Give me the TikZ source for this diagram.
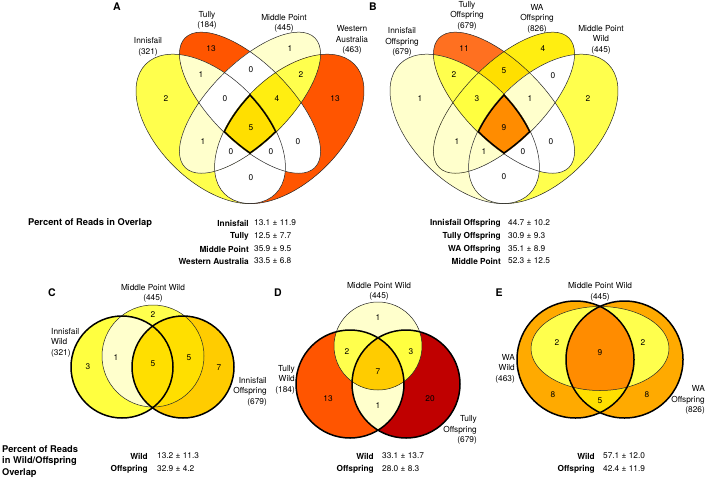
\documentclass[tikz,border=0pt]{standalone}
\usepackage{fontspec}
\setmainfont{TeX Gyre Heros}

\definecolor{h1}{HTML}{FFFFCC}
\definecolor{h2}{HTML}{FFFF4D}
\definecolor{h3}{HTML}{FFFF40}
\definecolor{h4}{HTML}{FFEE11}
\definecolor{h5}{HTML}{FFDF00}
\definecolor{h7}{HTML}{FFCC00}
\definecolor{h8}{HTML}{FFAA00}
\definecolor{h9}{HTML}{FF8C00}
\definecolor{h11}{HTML}{FF7020}
\definecolor{h13}{HTML}{FF5500}
\definecolor{h20}{HTML}{C00000}

\tikzset{
  oL/.style={shift={(#1-39.3,128.9)}, rotate=-45},
  iL/.style={shift={(#1,102.7)}, rotate=-45},
  iR/.style={shift={(#1,102.7)}, rotate=45},
  oR/.style={shift={(#1+39.3,128.9)}, rotate=45},
  thinline/.style={line width=0.5pt, black!85},
  thickline/.style={line width=1.5pt, black},
  setlabel/.style={font=\fontsize{8.3}{10.6}\selectfont, align=center, inner sep=0pt},
  regnum/.style={font=\fontsize{8.3}{10}\selectfont, inner sep=0pt},
  paneltag/.style={font=\bfseries\fontsize{10.5}{12}\selectfont, inner sep=0pt},
  pctitle/.style={font=\bfseries\fontsize{9.3}{11.5}\selectfont, align=left, anchor=west, inner sep=0pt},
  grpname/.style={font=\bfseries\fontsize{8.3}{10}\selectfont, anchor=east, inner sep=0pt},
  grpval/.style={font=\fontsize{8.3}{10}\selectfont, anchor=west, inner sep=0pt},
}

\newcommand{\outE}{(0,0) ellipse (91.7 and 52.4)}
\newcommand{\inE}{(0,0) ellipse (91.7 and 39.3)}

% four ellipses round centre x=#1, region colours r1 ... r1234
\newcommand{\quadvenn}[1]{%
  \fill[r1,oL=#1]\outE;
  \fill[r2,iL=#1]\inE;
  \fill[r3,iR=#1]\inE;
  \fill[r4,oR=#1]\outE;
  \begin{scope}
    \clip[oL=#1]\outE;
    \fill[r12,iL=#1]\inE;
    \fill[r13,iR=#1]\inE;
    \fill[r14,oR=#1]\outE;
  \end{scope}
  \begin{scope}
    \clip[iL=#1]\inE;
    \fill[r23,iR=#1]\inE;
    \fill[r24,oR=#1]\outE;
  \end{scope}
  \begin{scope}
    \clip[iR=#1]\inE;
    \fill[r34,oR=#1]\outE;
  \end{scope}
  \begin{scope}
    \clip[oL=#1]\outE; \clip[iL=#1]\inE;
    \fill[r123,iR=#1]\inE;
    \fill[r124,oR=#1]\outE;
  \end{scope}
  \begin{scope}
    \clip[oL=#1]\outE; \clip[iR=#1]\inE;
    \fill[r134,oR=#1]\outE;
  \end{scope}
  \begin{scope}
    \clip[iL=#1]\inE; \clip[iR=#1]\inE;
    \fill[r234,oR=#1]\outE;
  \end{scope}
  \draw[thinline,oL=#1]\outE;
  \draw[thinline,iL=#1]\inE;
  \draw[thinline,iR=#1]\inE;
  \draw[thinline,oR=#1]\outE;
  \begin{scope}
    \clip[oL=#1]\outE; \clip[iL=#1]\inE; \clip[iR=#1]\inE;
    \fill[r1234,oR=#1]\outE;
    \clip[oR=#1]\outE;
    \draw[line width=2.8pt,oL=#1]\outE;
    \draw[line width=2.8pt,iL=#1]\inE;
    \draw[line width=2.8pt,iR=#1]\inE;
    \draw[line width=2.8pt,oR=#1]\outE;
  \end{scope}
}

\begin{document}
\begin{tikzpicture}[x=1pt, y=-1pt]
\useasboundingbox (0,0) rectangle (708,480);

% panel A
\colorlet{r1}{h2}    \colorlet{r2}{h13}   \colorlet{r3}{h1}    \colorlet{r4}{h13}
\colorlet{r12}{h1}   \colorlet{r13}{h1}   \colorlet{r14}{white} \colorlet{r23}{white}
\colorlet{r24}{white} \colorlet{r34}{h2}  \colorlet{r123}{white} \colorlet{r124}{white}
\colorlet{r134}{white} \colorlet{r234}{h4} \colorlet{r1234}{h5}
\quadvenn{250}

\node[paneltag] (tagA) at (117,7) {A};
\node[setlabel] (labInn) at (148,47) {Innisfail\\(321)};
\node[setlabel] (labTully) at (207,20.5) {Tully\\(184)};
\node[setlabel] (labMP) at (284,23.5) {Middle Point\\(445)};
\node[setlabel] (labWA) at (352,40) {Western\\Australia\\(463)};

\node[regnum] (aI) at (166,99) {2};
\node[regnum] (aT) at (211,49) {13};
\node[regnum] (aM) at (290,49) {1};
\node[regnum] (aW) at (335,99) {13};
\node[regnum] (aIT) at (201,75) {1};
\node[regnum] (aTM) at (251,70) {0};
\node[regnum] (aMW) at (301,75) {2};
\node[regnum] (aITM) at (225,99) {0};
\node[regnum] (aTMW) at (277,99) {4};
\node[regnum] (aAll) at (251,128) {5};
\node[regnum] (aIM) at (203,142) {1};
\node[regnum] (aTW) at (298,142) {0};
\node[regnum] (aIMW) at (231,152) {0};
\node[regnum] (aITW) at (271,152) {0};
\node[regnum] (aIW) at (251,178) {0};

% panel B
\colorlet{r1}{h1}    \colorlet{r2}{h11}   \colorlet{r3}{h4}    \colorlet{r4}{h2}
\colorlet{r12}{h2}   \colorlet{r13}{h1}   \colorlet{r14}{white} \colorlet{r23}{h5}
\colorlet{r24}{white} \colorlet{r34}{white} \colorlet{r123}{h3} \colorlet{r124}{white}
\colorlet{r134}{h1}  \colorlet{r234}{h1}  \colorlet{r1234}{h9}
\quadvenn{504}

\node[paneltag] (tagB) at (373,7) {B};
\node[setlabel] (labInnOff) at (402,42) {Innisfail\\Offspring\\(679)};
\node[setlabel] (labTullyOff) at (467,15.5) {Tully\\Offspring\\(679)};
\node[setlabel] (labWAOff) at (537,18.5) {WA\\Offspring\\(826)};
\node[setlabel] (labMPWild) at (601,39.5) {Middle Point\\Wild\\(445)};

\node[regnum] (bI) at (420,99) {1};
\node[regnum] (bT) at (464,49) {11};
\node[regnum] (bW) at (543,49) {4};
\node[regnum] (bM) at (588,99) {2};
\node[regnum] (bIT) at (454,75) {2};
\node[regnum] (bTW) at (504,71) {5};
\node[regnum] (bWM) at (553,76) {0};
\node[regnum] (bITW) at (477,99) {3};
\node[regnum] (bTWM) at (530,99) {1};
\node[regnum] (bAll) at (504,128) {9};
\node[regnum] (bIW) at (457,142) {1};
\node[regnum] (bTM) at (551,142) {0};
\node[regnum] (bIWM) at (484,152) {1};
\node[regnum] (bITM) at (523,152) {0};
\node[regnum] (bIM) at (504,177) {0};

% overlap table, top row
\node[pctitle] (pctTop) at (28,223) {Percent of Reads in Overlap};
\node[grpname] (gA1) at (249,223) {Innisfail};
\node[grpval] (vA1) at (254,223) {13.1 ± 11.9};
\node[grpname] (gA2) at (249,236) {Tully};
\node[grpval] (vA2) at (254,236) {12.5 ± 7.7};
\node[grpname] (gA3) at (249,249) {Middle Point};
\node[grpval] (vA3) at (254,249) {35.9 ± 9.5};
\node[grpname] (gA4) at (249,261) {Western Australia};
\node[grpval] (vA4) at (254,261) {33.5 ± 6.8};
\node[grpname] (gB1) at (501,223) {Innisfail Offspring};
\node[grpval] (vB1) at (508,223) {44.7 ± 10.2};
\node[grpname] (gB2) at (501,236) {Tully Offspring};
\node[grpval] (vB2) at (508,236) {30.9 ± 9.3};
\node[grpname] (gB3) at (501,249) {WA Offspring};
\node[grpval] (vB3) at (508,249) {35.1 ± 8.9};
\node[grpname] (gB4) at (501,261) {Middle Point};
\node[grpval] (vB4) at (508,261) {52.3 ± 12.5};

% panel C
\fill[h3] (122,367) circle (51);
\fill[h7] (183,367) circle (51);
\fill[h2] (153,356) circle (51);
\begin{scope}
  \clip (122,367) circle (51);
  \fill[h1] (153,356) circle (51);
  \fill[h5] (183,367) circle (51);
\end{scope}
\begin{scope}
  \clip (183,367) circle (51);
  \fill[h5] (153,356) circle (51);
\end{scope}
\draw[thinline] (153,356) circle (51);
\draw[thickline] (122,367) circle (51);
\draw[thickline] (183,367) circle (51);

\node[paneltag] (tagC) at (52,293) {C};
\node[setlabel] (labCmp) at (153,293.5) {Middle Point Wild\\(445)};
\node[setlabel, align=left, anchor=west] (labCinn) at (51,342.5) {Innisfail\\Wild\\(321)};
\node[setlabel, align=right, anchor=east] (labCoff) at (267,391.5) {Innisfail\\Offspring\\(679)};
\node[regnum] (cI) at (88,367) {3};
\node[regnum] (cIM) at (116,358) {1};
\node[regnum] (cAll) at (153,364) {5};
\node[regnum] (cMO) at (189,358) {5};
\node[regnum] (cO) at (219,368) {7};
\node[regnum] (cM) at (153,315) {2};

% panel D
\fill[h1] (378,346) circle (44);
\fill[h13] (350,384) circle (54);
\fill[h20] (406,384) circle (54);
\begin{scope}
  \clip (350,384) circle (54);
  \fill[h2] (378,346) circle (44);
  \fill[h1] (406,384) circle (54);
\end{scope}
\begin{scope}
  \clip (406,384) circle (54);
  \fill[h3] (378,346) circle (44);
  \clip (350,384) circle (54);
  \fill[h7] (378,346) circle (44);
\end{scope}
\draw[thinline] (378,346) circle (44);
\draw[thickline] (350,384) circle (54);
\draw[thickline] (406,384) circle (54);

\node[paneltag] (tagD) at (278,293) {D};
\node[setlabel] (labDmp) at (379,291.5) {Middle Point Wild\\(445)};
\node[setlabel, align=right, anchor=east] (labDtw) at (295,379.5) {Tully\\Wild\\(184)};
\node[setlabel, align=right, anchor=east] (labDto) at (477,430) {Tully\\Offspring\\(679)};
\node[regnum] (dM) at (378,318) {1};
\node[regnum] (dMW) at (347,352) {2};
\node[regnum] (dMO) at (411,352) {3};
\node[regnum] (dAll) at (378,372) {7};
\node[regnum] (dW) at (328,399) {13};
\node[regnum] (dWO) at (378,406) {1};
\node[regnum] (dO) at (430,399) {20};

% panel E
\fill[h8] (575.5,359.5) circle (58.5);
\fill[h8] (624.5,359.5) circle (58.5);
\begin{scope}
  \clip (575.5,359.5) circle (58.5);
  \fill[h5] (624.5,359.5) circle (58.5);
\end{scope}
\fill[h2] (600,348.5) ellipse (69 and 42);
\begin{scope}
  \clip (575.5,359.5) circle (58.5);
  \clip (624.5,359.5) circle (58.5);
  \fill[h9] (600,348.5) ellipse (69 and 42);
\end{scope}
\draw[thinline] (600,348.5) ellipse (69 and 42);
\draw[thickline] (575.5,359.5) circle (58.5);
\draw[thickline] (624.5,359.5) circle (58.5);

\node[paneltag] (tagE) at (499,293) {E};
\node[setlabel] (labEmp) at (600,292) {Middle Point Wild\\(445)};
\node[setlabel, align=right, anchor=east] (labEww) at (515,368.5) {WA\\Wild\\(463)};
\node[setlabel, align=right, anchor=east] (labEwo) at (705,400) {WA\\Offspring\\(826)};
\node[regnum] (eWM) at (557,343) {2};
\node[regnum] (eAll) at (600,353) {9};
\node[regnum] (eMO) at (643,343) {2};
\node[regnum] (eW) at (553,395) {8};
\node[regnum] (eWO) at (600,401) {5};
\node[regnum] (eO) at (647,395) {8};

% overlap table, bottom row
\node[pctitle] (pctBot) at (2,461.5) {Percent of Reads\\in Wild/Offspring\\Overlap};
\node[grpname] (gC1) at (148,456) {Wild};
\node[grpval] (vC1) at (157,456) {13.2 ± 11.3};
\node[grpname] (gC2) at (148,469) {Offspring};
\node[grpval] (vC2) at (157,469) {32.9 ± 4.2};
\node[grpname] (gD1) at (374,456) {Wild};
\node[grpval] (vD1) at (382,456) {33.1 ± 13.7};
\node[grpname] (gD2) at (374,469) {Offspring};
\node[grpval] (vD2) at (382,469) {28.0 ± 8.3};
\node[grpname] (gE1) at (595,456) {Wild};
\node[grpval] (vE1) at (603,456) {57.1 ± 12.0};
\node[grpname] (gE2) at (595,469) {Offspring};
\node[grpval] (vE2) at (603,469) {42.4 ± 11.9};
\end{tikzpicture}
\end{document}
